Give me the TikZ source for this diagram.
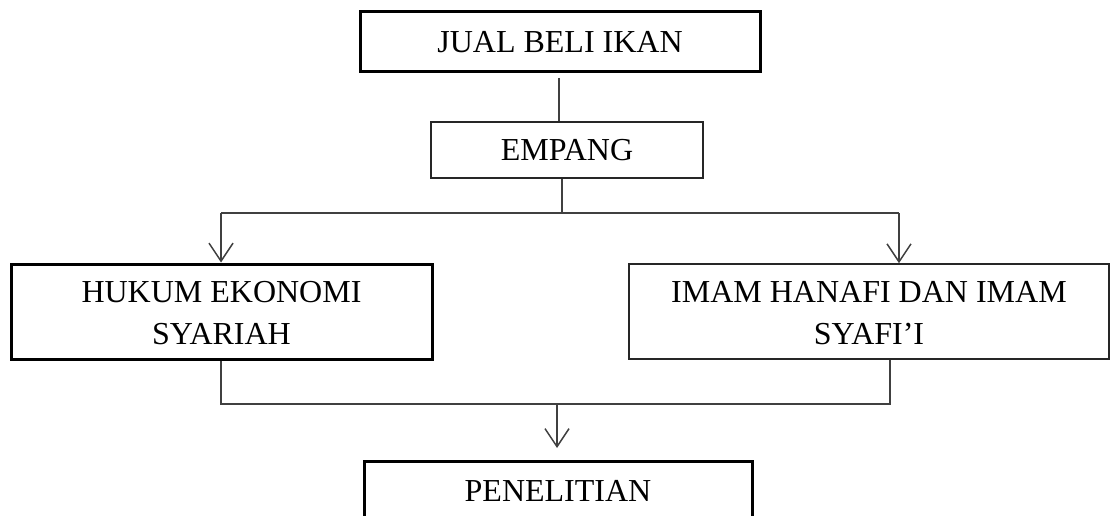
\documentclass[tikz,border=0pt]{standalone}
\usepackage{fontspec}
\setmainfont{Liberation Serif}
\usetikzlibrary{arrows.meta}
\newcommand{\twoln}[2]{\raisebox{-4pt}[\height][\depth]{\begin{tabular}{@{}c@{}}#1\\#2\end{tabular}}}
\begin{document}
\begin{tikzpicture}[x=1pt,y=-1pt,
  box/.style={draw=black, line width=3pt, inner sep=0pt, align=center, font=\fontsize{32}{42}\selectfont},
  thinbox/.style={box, draw=black!85, line width=1.6pt},
  conn/.style={draw=black!75, line width=1.5pt},
  arr/.style={conn, -{Straight Barb[length=18pt,width=24pt]}}
]
\useasboundingbox (0,0) rectangle (1110,516);
\clip (0,0) rectangle (1110,516);

\node[box, minimum width=400pt, minimum height=60pt] (jual) at (560,42) {JUAL BELI IKAN};
\node[thinbox, minimum width=272pt, minimum height=56pt] (empang) at (567,150) {EMPANG};
\node[box, minimum width=421pt, minimum height=95pt] (hukum) at (221.5,311.5) {\twoln{HUKUM EKONOMI}{SYARIAH}};
\node[thinbox, minimum width=480pt, minimum height=95pt] (imam) at (869,311.5) {\twoln{IMAM HANAFI DAN IMAM}{SYAFI’I}};
\node[box, minimum width=388pt, minimum height=60pt] (pen) at (558,491) {PENELITIAN};

\coordinate (t1) at (559,78);
\draw[conn] (t1) -- (t1 |- empang.north);

\coordinate (sp) at (562,213);
\draw[conn] (sp |- empang.south) -- (sp);
\coordinate (la) at (221,213);
\coordinate (ra) at (899,213);
\draw[conn] (la) -- (ra);
\draw[arr] (la) -- (la |- hukum.north);
\draw[arr] (ra) -- (ra |- imam.north);

\coordinate (lb) at (221,404);
\coordinate (rb) at (890,404);
\draw[conn] (lb |- hukum.south) -- (lb) -- (rb) -- (rb |- imam.south);
\coordinate (mb) at (557,404);
\coordinate (mt) at (557,448);
\draw[arr] (mb) -- (mt);
\end{tikzpicture}
\end{document}
